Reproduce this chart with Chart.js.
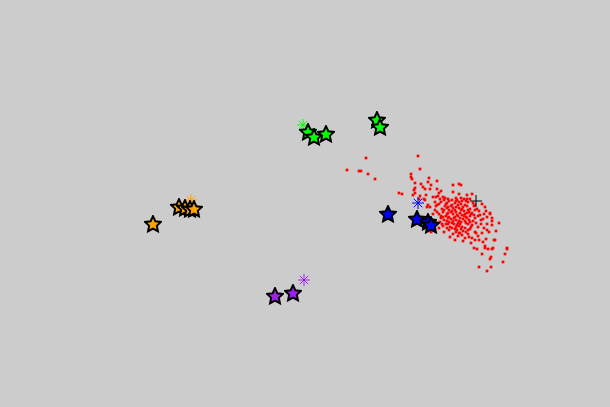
<!DOCTYPE html>
<html>
<head>
<meta charset="utf-8">
<script src="https://cdn.jsdelivr.net/npm/chart.js@4.4.0/dist/chart.umd.min.js"></script>
<style>
html,body{margin:0;padding:0;background:#cccccc;}
#wrap{width:610px;height:407px;}
</style>
</head>
<body>
<div id="wrap"><canvas id="c"></canvas></div>
<script>
// cluster member points (x, y in plot units)
const redPoints = [
[366,158],[347,170],[359,171],[361,171],[368,174],[375,179],
[418,156],[420,169],[411,174],[411,177],[412,179],[415,183],[421,184],[429,178],[437,181],[428,182],[453,185],[423,187],[425,189],[415,188],[414,190],[431,185],[430,189],[437,189],[441,191],[439,193],[453,192],[399,193],[402,194],[415,193],[413,195],[420,196],[426,195],[433,197],[436,197],[438,196],[443,197],[445,198],[448,199],[419,199],[424,199],[440,199],
[459,184],[461,185],[472,194],[467,195],[459,194],[461,198],[456,198],[464,199],[467,199],
[456,201],[462,201],[466,201],[479,211],[480,215],[486,211],[490,214],[487,217],[483,219],[492,221],[492,225],[499,223],[478,227],[487,224],[487,230],[489,232],[482,233],[475,232],[476,233],[468,234],[472,238],[475,240],[479,240],[483,242],[486,239],[494,240],[463,241],[471,243],[459,233],[465,238],
[474,248],[477,249],[485,246],[485,248],[488,249],[492,249],[493,248],[507,249],[482,254],[491,257],[490,259],[505,254],[503,262],[479,267],[491,267],[487,271],
[428,205],[430,207],[435,202],[437,205],[441,216],[443,217],[437,223],[442,224],[446,224],[447,228],[431,232],[435,221],[425,200],[427,207],[490,213],[492,218],[495,240],[507,248],
[482,204],[485,207],[481,224],[484,228],[478,236],[444,232],[439,228],[450,237],[455,240],[433,214],[484,214],[496,231],
[444,200],[449,201],[452,200],[457,200],[470,199],
[441,202],[447,203],[455,203],[459,202],[468,202],[473,203],
[439,204],[446,204],[452,205],[458,205],[461,204],[465,205],[475,205],
[436,206],[445,206],[448,207],[451,206],[456,207],[463,207],[467,206],[474,206],
[442,209],[447,208],[453,208],[459,208],[462,209],[470,209],[477,209],
[435,210],[444,210],[449,210],[452,211],[455,210],[461,210],[464,211],[468,210],[475,210],
[437,212],[443,212],[448,213],[451,212],[456,212],[460,213],[467,213],[469,212],[472,213],
[439,214],[447,214],[453,214],[457,215],[462,215],[465,214],[471,214],[474,215],
[446,216],[449,217],[455,217],[458,216],[464,216],[466,217],[470,216],[478,216],
[441,218],[448,218],[451,219],[454,218],[460,218],[463,219],[467,218],[475,218],
[444,220],[447,221],[453,221],[456,220],[459,221],[465,221],[469,220],[473,221],[481,220],
[440,222],[449,222],[452,223],[458,223],[461,222],[466,223],[470,222],[476,223],
[448,224],[454,224],[457,225],[460,224],[468,224],[472,225],
[443,226],[450,227],[456,227],[459,226],[462,227],[471,227],
[452,228],[455,229],[461,229],[465,228],[470,229],
[449,230],[457,230],[463,231],[468,230],
[456,232],[460,233],[466,232],
[453,234],[462,235],
[458,236],[469,237]
];
const orangePoints = [[153,224],[179,207],[185,208],[190,209],[194,209]];
const greenPoints = [[308,132],[314,137],[326,134],[377,120],[380,127]];
const bluePoints = [[388,214],[417,219],[428,222],[431,225]];
const purplePoints = [[275,296],[293,293]];
// cluster centres
const redCentre = [[476,201]];
const orangeCentre = [[191,200]];
const greenCentre = [[303,125]];
const blueCentre = [[418,203]];
const purpleCentre = [[304,280]];

function makeStar(color){
  const cv = document.createElement('canvas');
  cv.width = 18; cv.height = 18;
  const g = cv.getContext('2d');
  g.beginPath();
  for(let i=0;i<10;i++){
    const r = i%2===0 ? 6 : 2.9;
    const a = -Math.PI/2 + i*Math.PI/5;
    const px = 9 + r*Math.cos(a), py = 9.5 + r*Math.sin(a);
    if(i===0) g.moveTo(px,py); else g.lineTo(px,py);
  }
  g.closePath();
  g.lineWidth = 4; g.strokeStyle = '#000'; g.lineJoin='miter';
  g.stroke();
  g.fillStyle = color; g.fill();
  return cv;
}
const toXY = a => a.map(p=>({x:p[0],y:p[1]}));
function starSet(pts,color){
  return {data:toXY(pts),pointStyle:makeStar(color),radius:7,order:1,showLine:false};
}
function centreSet(pts,color,style){
  return {data:toXY(pts),pointStyle:style,radius:6,borderColor:color,backgroundColor:color,borderWidth:1,order:2,showLine:false};
}
new Chart(document.getElementById('c'),{
  type:'scatter',
  data:{datasets:[
    {data:toXY(redPoints),pointStyle:'rect',radius:1.9,borderWidth:0,backgroundColor:'#ff0000',order:3},
    centreSet(redCentre,'#000000','cross'),
    centreSet(orangeCentre,'#ffa500','star'),
    centreSet(greenCentre,'#00ff00','star'),
    centreSet(blueCentre,'#0000ff','star'),
    centreSet(purpleCentre,'#a020f0','star'),
    starSet(orangePoints,'#ffa500'),
    starSet(greenPoints,'#00ff00'),
    starSet(bluePoints,'#0000ff'),
    starSet(purplePoints,'#a020f0')
  ]},
  options:{
    responsive:true,maintainAspectRatio:false,animation:false,
    layout:{padding:0,autoPadding:false},
    plugins:{legend:{display:false},tooltip:{enabled:false}},
    scales:{
      x:{type:'linear',min:0,max:610,display:false},
      y:{type:'linear',min:0,max:407,reverse:true,display:false}
    }
  }
});
</script>
</body>
</html>
